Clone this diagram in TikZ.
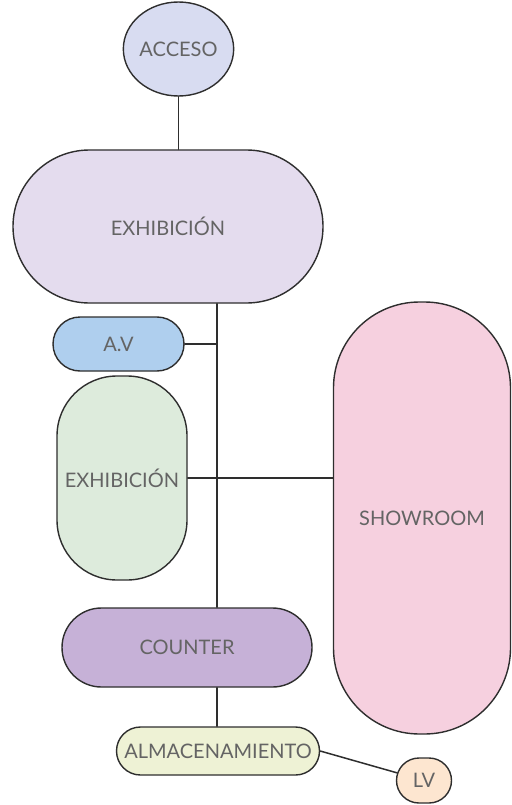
\documentclass[tikz,border=0pt]{standalone}
\usepackage{fontspec}
\setmainfont{Lato}
\usepackage{xcolor}
\usetikzlibrary{shapes.geometric,shapes.misc,calc}
\definecolor{accesoc}{HTML}{D8DCF1}
\definecolor{exhc}{HTML}{E4DCEE}
\definecolor{avc}{HTML}{AFCFEE}
\definecolor{exgc}{HTML}{DDEBDC}
\definecolor{showc}{HTML}{F6D0DF}
\definecolor{counterc}{HTML}{C6B1D7}
\definecolor{almc}{HTML}{EEF2D5}
\definecolor{lvc}{HTML}{FDE6D0}
\definecolor{linec}{HTML}{2E2E2E}
\definecolor{txtc}{HTML}{646464}
\tikzset{
  every picture/.style={line join=round, line cap=round},
  zone/.style={draw=linec, line width=1.4pt, text=txtc, inner sep=0pt,
    font=\fontsize{20}{22}\selectfont},
  pill/.style={zone, rounded rectangle},
  tall/.style={zone, rectangle},
  link/.style={draw=linec, line width=1.5pt},
}
\begin{document}
\begin{tikzpicture}[x=1pt,y=-1pt]
\useasboundingbox (0,0) rectangle (511,805);
\node[zone,ellipse,fill=accesoc,minimum width=100,minimum height=94](acceso) at (178.5,49) {ACCESO};
\node[pill,fill=exhc,minimum width=310,minimum height=153](exh) at (168,226.5) {EXHIBICIÓN};
\node[pill,fill=avc,minimum width=131,minimum height=54](av) at (118.5,344) {A.V};
\node[tall,fill=exgc,rounded corners=60,minimum width=130,minimum height=204](exg) at (122,478) {EXHIBICIÓN};
\node[tall,fill=showc,rounded corners=86,minimum width=177,minimum height=432](show) at (422,518) {SHOWROOM};
\node[pill,fill=counterc,minimum width=250,minimum height=79](counter) at (187,647.5) {COUNTER};
\node[pill,fill=almc,minimum width=203,minimum height=48](alm) at (218,751) {ALMACENAMIENTO};
\node[pill,fill=lvc,minimum width=55,minimum height=45](lv) at (424,780.5) {LV};
\coordinate (spine) at (217,0);
% connectors
\draw[link] (acceso) -- (acceso |- exh.north);
\draw[link] (spine |- exh.south) -- (spine |- counter.north);
\draw[link] (av.east) -- (av.east -| spine);
\draw[link] (exg.east) -- (exg.east -| show.west);
\draw[link] (counter.south -| spine) -- (spine |- alm.north);
\draw[link] (alm.east) -- (lv);
\end{tikzpicture}
\end{document}
